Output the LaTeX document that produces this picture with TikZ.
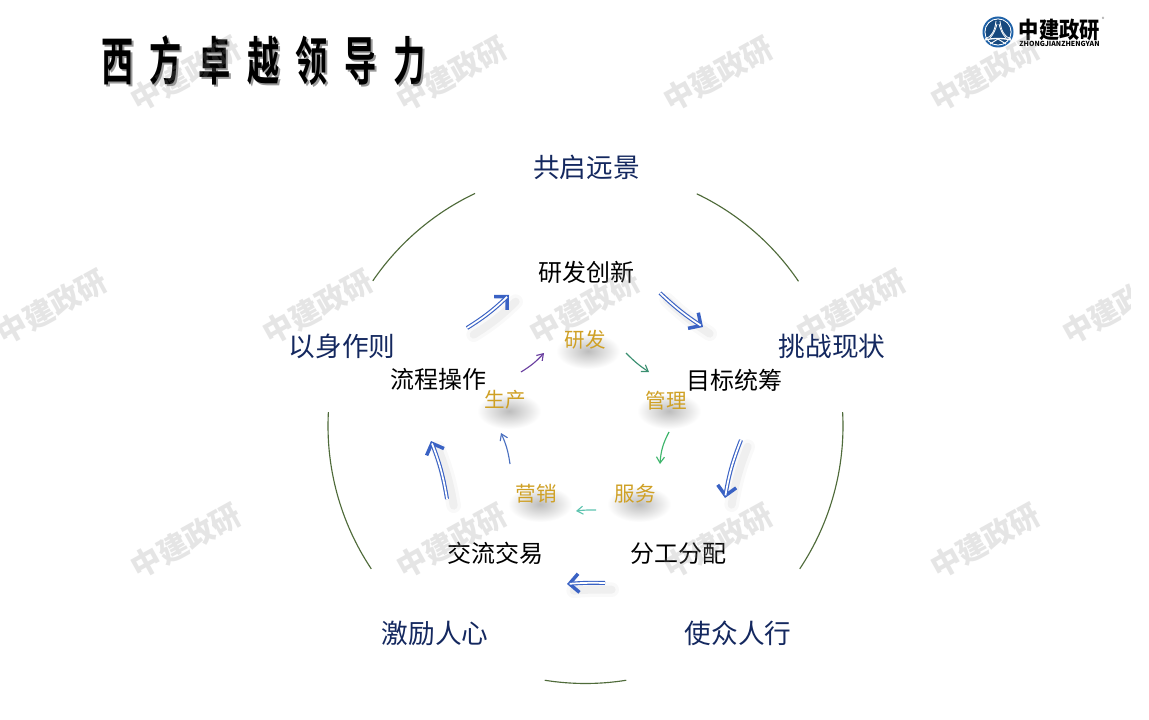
\documentclass[tikz,border=0pt]{standalone}
\usepackage{fontspec}
\usetikzlibrary{arrows.meta,shadings}
\setmainfont{Noto Sans CJK SC}
\newfontfamily\titlefont[LetterSpace=51,BoldFont={Noto Sans CJK SC Bold}]{Noto Sans CJK SC}
\definecolor{navyc}{HTML}{14285F}
\definecolor{goldc}{HTML}{CFA024}
\definecolor{arcc}{HTML}{4F6B3A}
\definecolor{bluec}{HTML}{3A62C4}
\definecolor{logoc}{HTML}{1F62A8}
\definecolor{t1c}{HTML}{6A3FA0}
\definecolor{t2c}{HTML}{3A8F70}
\definecolor{t3c}{HTML}{3CB56A}
\definecolor{t4c}{HTML}{5FC4B0}
\definecolor{t5c}{HTML}{4A70C0}
\tikzset{
  outerlabel/.style={font=\fontsize{20pt}{23pt}\selectfont, text=navyc, inner sep=0pt},
  innerlabel/.style={font=\fontsize{18pt}{21pt}\selectfont, text=black, inner sep=0pt},
  goldlabel/.style={font=\fontsize{15.4pt}{18pt}\selectfont, text=goldc, inner sep=0pt},
  titlelabel/.style={font=\titlefont\bfseries\fontsize{39pt}{42pt}\selectfont, xscale=0.62, anchor=west, inner sep=0pt},
  ringarc/.style={draw=arcc, line width=0.85pt},
  blob/.style={inner color=black!26, outer color=white},
  bighead/.style={draw=bluec, line width=0.9pt, -{Straight Barb[line width=2.6pt,length=7pt,width=14pt]}},
  bigshaft/.style={draw=bluec, line width=0.85pt, double=white, double distance=1.3pt, shorten >=2pt},
  bigshadow/.style={draw=black, line cap=round},
  thinarrow/.style={line width=0.85pt, -{Straight Barb[line width=0.85pt,length=4.5pt,width=6pt]}},
  watermark/.style={font=\bfseries\fontsize{22.5pt}{26pt}\selectfont, text=black!45, opacity=0.22, rotate=29, inner sep=0pt}
}
\newcommand{\bigarrow}[3]{%
  \draw[bigshadow, line width=11pt, opacity=0.025, transform canvas={shift={(5pt,-5pt)}}] (#1) to[bend left=#3] (#2);
  \draw[bigshadow, line width=6pt, opacity=0.04, transform canvas={shift={(5pt,-5pt)}}] (#1) to[bend left=#3] (#2);
  \draw[bighead] (#1) to[bend left=#3] (#2);
  \draw[bigshaft] (#1) to[bend left=#3] (#2);
}
\begin{document}
\begin{tikzpicture}[x=0.75pt,y=-0.75pt]
\useasboundingbox (0,0) rectangle (1149,720);
\fill[white] (0,0) rectangle (1149,720);

% title
\node[titlelabel, text=black!40] (titleshadow) at (103,63) {西方卓越领导力};
\node[titlelabel, text=black] (title) at (101,61) {西方卓越领导力};

% ring
\coordinate (ringc) at (585.5,426);
\draw[ringarc] (ringc) ++(-64.4:257.5) arc[start angle=-64.4, end angle=-34.2, radius=257.5];
\draw[ringarc] (ringc) ++(-3.1:257.5) arc[start angle=-3.1, end angle=33.7, radius=257.5];
\draw[ringarc] (ringc) ++(80.9:257.5) arc[start angle=80.9, end angle=99.1, radius=257.5];
\draw[ringarc] (ringc) ++(146.3:257.5) arc[start angle=146.3, end angle=183.1, radius=257.5];
\draw[ringarc] (ringc) ++(214.3:257.5) arc[start angle=214.3, end angle=244.6, radius=257.5];

% soft shadows under the gold labels
\shade[blob] (588,351) ellipse [x radius=32, y radius=18];
\shade[blob] (669,411) ellipse [x radius=32, y radius=18];
\shade[blob] (639,504) ellipse [x radius=32, y radius=18];
\shade[blob] (540,504) ellipse [x radius=32, y radius=18];
\shade[blob] (509,411) ellipse [x radius=32, y radius=18];

% outer labels
\node[outerlabel] (vision) at (586.5,167.5) {共启远景};
\node[outerlabel] (challenge) at (832,346) {挑战现状};
\node[outerlabel] (enable) at (738,633.5) {使众人行};
\node[outerlabel] (encourage) at (435,633.5) {激励人心};
\node[outerlabel] (model) at (342,346) {以身作则};

% inner labels
\node[innerlabel] (rnd) at (586.5,272.5) {研发创新};
\node[innerlabel] (goal) at (734.5,380.5) {目标统筹};
\node[innerlabel] (assign) at (678,553.5) {分工分配};
\node[innerlabel] (trade) at (495,553.5) {交流交易};
\node[innerlabel] (flow) at (438.5,379.5) {流程操作};

% gold labels
\node[goldlabel] (g1) at (585.5,340) {研发};
\node[goldlabel] (g2) at (666,400.5) {管理};
\node[goldlabel] (g3) at (635.5,493.5) {服务};
\node[goldlabel] (g4) at (536.5,493.5) {营销};
\node[goldlabel] (g5) at (505.5,400) {生产};

% big arrows
\coordinate (a1s) at (467,328); \coordinate (a1e) at (509,295);
\coordinate (a2s) at (660,293); \coordinate (a2e) at (703,327);
\coordinate (a3s) at (741,440); \coordinate (a3e) at (725,498);
\coordinate (a4s) at (605,583); \coordinate (a4e) at (567,584);
\coordinate (a5s) at (447,499); \coordinate (a5e) at (431,441);
\bigarrow{a1s}{a1e}{-6}
\bigarrow{a2s}{a2e}{-5}
\bigarrow{a3s}{a3e}{-6}
\bigarrow{a4s}{a4e}{-3}
\bigarrow{a5s}{a5e}{-6}

% thin arrows
\coordinate (t1s) at (521,372); \coordinate (t1e) at (544,353);
\coordinate (t2s) at (626,353); \coordinate (t2e) at (649,372);
\coordinate (t3s) at (669,432); \coordinate (t3e) at (660,464);
\coordinate (t4s) at (596,510); \coordinate (t4e) at (576,511);
\coordinate (t5s) at (510,464); \coordinate (t5e) at (501,433);
\draw[thinarrow, draw=t1c] (t1s) to[bend left=-8] (t1e);
\draw[thinarrow, draw=t2c] (t2s) to[bend left=-6] (t2e);
\draw[thinarrow, draw=t3c] (t3s) to[bend left=-12] (t3e);
\draw[thinarrow, draw=t4c] (t4s) to[bend left=-4] (t4e);
\draw[thinarrow, draw=t5c] (t5s) to[bend left=-8] (t5e);

% logo
\fill[logoc] (998,32) circle [radius=15.5];
\draw[white, line width=0.8pt] (998,32) circle [radius=13];
\fill[logoc!75!black] (998,32) circle [radius=12.5];
\draw[white, line width=0.6pt] (985,39) .. controls (992,37) and (995,30) .. (996,21);
\draw[white, line width=0.6pt] (1011,39) .. controls (1004,37) and (1001,30) .. (1000,21);
\draw[white, line width=0.6pt] (990,38) .. controls (994,34) and (996,28) .. (997,24);
\draw[white, line width=0.6pt] (1006,38) .. controls (1002,34) and (1000,28) .. (999,24);
\draw[white, line width=1pt] (985,40) .. controls (992,38) and (1004,38) .. (1011,40);
\draw[white, line width=0.7pt] (990,44) -- (998,39) -- (1006,44);
\node[inner sep=0pt, font=\bfseries\fontsize{15.2pt}{16pt}\selectfont, yscale=1.12] (logotext) at (1059.5,30) {中建政研};
\node[inner sep=0pt, font=\bfseries\fontsize{5.2pt}{6pt}\selectfont] (logosub) at (1059.5,44) {ZHONGJIANZHENGYAN};
\node[inner sep=0pt, font=\fontsize{4pt}{5pt}\selectfont, text=black!60] (logoreg) at (1103,19) {®};

% watermarks
\begin{scope}
\clip (0,0) rectangle (1130,720);
\node[watermark] (w11) at (186,74) {中建政研};
\node[watermark] (w12) at (452,74) {中建政研};
\node[watermark] (w13) at (718,74) {中建政研};
\node[watermark] (w14) at (985,74) {中建政研};
\node[watermark] (w21) at (52,307) {中建政研};
\node[watermark] (w22) at (318,307) {中建政研};
\node[watermark] (w23) at (585,307) {中建政研};
\node[watermark] (w24) at (851,307) {中建政研};
\node[watermark] (w25) at (1117,307) {中建政研};
\node[watermark] (w31) at (186,541) {中建政研};
\node[watermark] (w32) at (452,541) {中建政研};
\node[watermark] (w33) at (718,541) {中建政研};
\node[watermark] (w34) at (985,541) {中建政研};
\end{scope}
\end{tikzpicture}
\end{document}
